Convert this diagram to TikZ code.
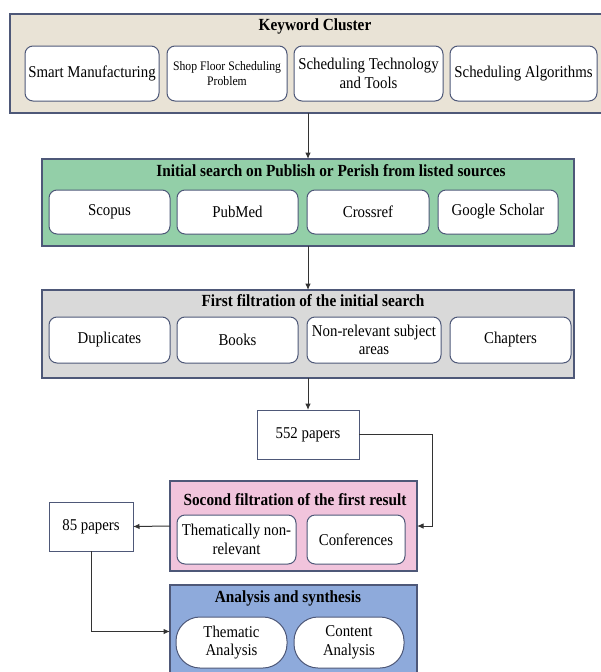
\documentclass[tikz,border=0pt]{standalone}
\usepackage{fontspec}
\setmainfont{Liberation Serif}[FakeStretch=0.9]
\usetikzlibrary{arrows.meta}
\definecolor{bordc}{HTML}{4E5878}
\definecolor{kwfill}{HTML}{E9E3D6}
\definecolor{grfill}{HTML}{93CFA8}
\definecolor{gyfill}{HTML}{D9D9D9}
\definecolor{pkfill}{HTML}{F1C4DC}
\definecolor{blfill}{HTML}{8EAADB}
\definecolor{linec}{HTML}{333333}
\tikzset{
  group/.style={draw=bordc, line width=1.2pt, inner sep=0pt, outer sep=0pt},
  item/.style={draw=bordc, line width=1pt, fill=white, rounded corners=8pt, align=center,
    inner sep=0pt, outer sep=0pt, font=\fontsize{16.5}{18.5}\selectfont},
  smallitem/.style={item, font=\fontsize{13}{15}\selectfont},
  pill/.style={item, rounded corners=24pt},
  count/.style={draw=bordc, line width=1pt, fill=white, inner sep=0pt, outer sep=0pt,
    font=\fontsize{16.5}{18.5}\selectfont},
  title/.style={font=\bfseries\fontsize{17}{19}\selectfont, inner sep=0pt},
  conn/.style={draw=linec, line width=1pt, -{Latex[length=6.5pt,width=5.5pt]}},
  plain/.style={draw=linec, line width=1pt}
}
\newcommand\mybox[7]{%
  \pgfmathsetmacro\cx{(#3+#5)/2}\pgfmathsetmacro\cy{-(#4+#6)/2}%
  \pgfmathsetmacro\ww{#5-#3}\pgfmathsetmacro\hh{#6-#4}%
  \node[#2, minimum width=\ww pt, minimum height=\hh pt] (#1) at (\cx pt,\cy pt) {#7};}
\begin{document}
\begin{tikzpicture}
\useasboundingbox (0,0) rectangle (601pt,-672pt);
% Keyword cluster
\mybox{kw}{group, fill=kwfill}{10}{14}{604}{113}{}
\node[title] (kwt) at (315pt,-26pt) {Keyword Cluster};
\mybox{k1}{item}{25}{46}{159}{101}{Smart Manufacturing}
\mybox{k2}{smallitem}{167}{46}{287}{101}{Shop Floor Scheduling\\Problem}
\mybox{k3}{item}{294}{46}{443}{101}{Scheduling Technology\\and Tools}
\mybox{k4}{item}{450}{46}{597}{101}{Scheduling Algorithms}
% Initial search
\mybox{init}{group, fill=grfill}{42}{159}{574}{246}{}
\node[title] (initt) at (331pt,-171pt) {Initial search on Publish or Perish from listed sources};
\mybox{s1}{item}{49}{190}{170}{234}{Scopus}
\mybox{s2}{item}{177}{190}{298}{234}{PubMed}
\mybox{s3}{item}{307}{190}{429}{234}{Crossref}
\mybox{s4}{item}{438}{190}{558}{234}{Google Scholar}
% First filtration
\mybox{filt}{group, fill=gyfill}{42}{290}{574}{378}{}
\node[title] (filtt) at (313pt,-301pt) {First filtration of the initial search};
\mybox{f1}{item}{49}{317}{170}{363}{Duplicates}
\mybox{f2}{item}{177}{317}{298}{363}{Books}
\mybox{f3}{item}{307}{317}{441}{363}{Non-relevant subject\\areas}
\mybox{f4}{item}{450}{317}{571}{363}{Chapters}
% 552 papers
\mybox{p552}{count}{257}{410}{359}{459}{552 papers}
% Second filtration
\mybox{second}{group, fill=pkfill}{170}{481}{417}{571}{}
\node[title] (sect) at (295pt,-500pt) {Socond filtration of the first result};
\mybox{t1}{item}{177}{515}{296}{564}{Thematically non-\\relevant}
\mybox{t2}{item}{307}{515}{405}{564}{Conferences}
% 85 papers
\mybox{p85}{count}{49}{502}{133}{551}{85 papers}
% Analysis
\mybox{ana}{group, fill=blfill}{170}{585}{417}{678}{}
\node[title] (anat) at (288pt,-598pt) {Analysis and synthesis};
\mybox{a1}{pill}{176}{617}{287}{668}{Thematic\\Analysis}
\mybox{a2}{pill}{294}{617}{404}{668}{Content\\Analysis}
% connectors
\draw[conn] (init.north |- kw.south) -- (init.north);
\draw[conn] (filt.north |- init.south) -- (filt.north);
\draw[conn] (filt.south) -- (p552.north);
\coordinate (c1) at (432pt,-434.5pt);
\draw[conn] (p552.east) -- (c1) |- (second.east);
\draw[conn] (second.west) -- (p85.east);
\draw[conn] (p85.south) |- (ana.west);
\end{tikzpicture}
\end{document}
